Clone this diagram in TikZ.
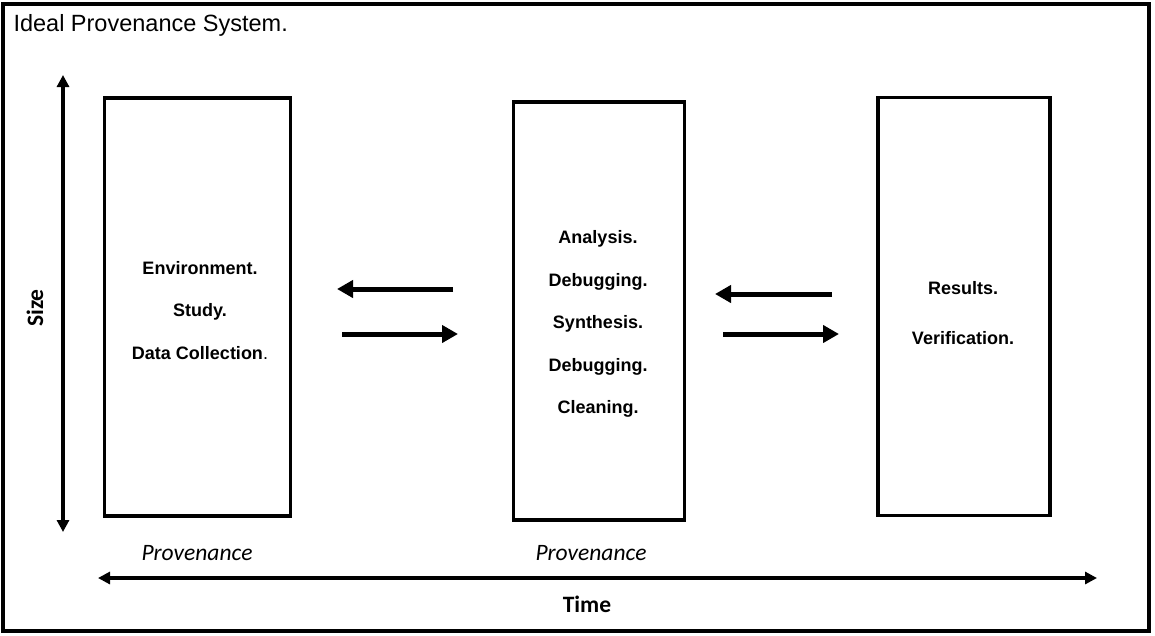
\documentclass[tikz,border=0pt]{standalone}
\usepackage{fontspec}
\setmainfont{Liberation Sans}
\newfontfamily\calibri{Carlito}
\usetikzlibrary{arrows.meta}

\begin{document}
\begin{tikzpicture}[x=1pt,y=-1pt,
    stage/.style={draw, line width=3.5pt, minimum height=418pt, inner sep=0pt},
    steps/.style={align=center, font=\fontsize{18}{42.5}\selectfont\bfseries},
    flow/.style={line width=5pt, -{Triangle[length=16pt,width=17pt]}},
    axis/.style={line width=3.5pt, {Triangle[length=12pt,width=12pt]}-{Triangle[length=12pt,width=12pt]}},
    tag/.style={font=\fontsize{23.5}{28}\selectfont\calibri\itshape, anchor=base}]
    \useasboundingbox (0,0) rectangle (1155,635);
    \draw[line width=4pt] (3,4) rectangle (1149,631);
    \node[anchor=base west, font=\fontsize{23.5}{28}\selectfont] (title) at (10,31) {Ideal Provenance System.};

    % the three stages
    \node[stage, minimum width=186pt] (collect) at (197.5,307) {};
    \node[stage, minimum width=171pt] (process) at (599,311) {};
    \node[stage, minimum width=172pt] (publish) at (964,306.5) {};
    \node[steps] (collecttext) at (200,310.5) {Environment.\\Study.\\Data Collection{\mdseries.}};
    \node[steps] (processtext) at (598,324) {Analysis.\\Debugging.\\Synthesis.\\Debugging.\\Cleaning.};
    \node[steps, font=\fontsize{18}{50}\selectfont\bfseries] (publishtext) at (963,313) {Results.\\Verification.};

    % back and forth
    \coordinate (ab) at (453,289); \coordinate (ae) at (337,289);
    \coordinate (bb) at (342,334); \coordinate (be) at (458,334);
    \coordinate (cb) at (832,294); \coordinate (ce) at (715,294);
    \coordinate (db) at (723,334); \coordinate (de) at (839,334);
    \draw[flow] (ab) -- (ae);
    \draw[flow] (bb) -- (be);
    \draw[flow] (cb) -- (ce);
    \draw[flow] (db) -- (de);

    % axes
    \coordinate (sizetop) at (63,75); \coordinate (sizebot) at (63,532);
    \coordinate (timel) at (98,578); \coordinate (timer) at (1097,578);
    \draw[axis] (sizebot) -- (sizetop);
    \draw[axis] (timel) -- (timer);
    \node[rotate=90, font=\fontsize{23.5}{28}\selectfont\calibri\bfseries] (size) at (35,308) {Size};
    \node[font=\fontsize{23.5}{28}\selectfont\calibri\bfseries, anchor=base] (time) at (587,612) {Time};
    \node[tag] (prov1) at (197,560) {Provenance};
    \node[tag] (prov2) at (591,560) {Provenance};
\end{tikzpicture}
\end{document}
